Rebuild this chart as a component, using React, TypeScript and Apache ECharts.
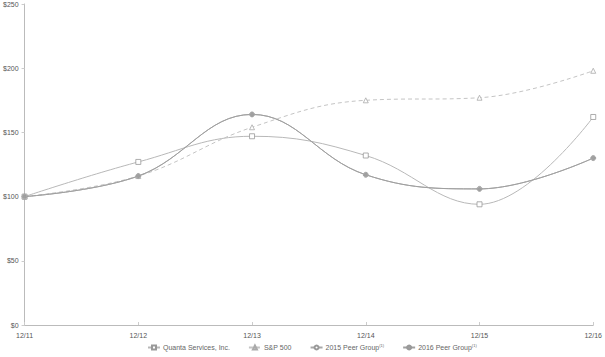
import React, { useEffect, useRef } from "react";
import * as echarts from "echarts";

const categories = ["12/11", "12/12", "12/13", "12/14", "12/15", "12/16"];
const quanta = [100, 127, 147, 132, 94, 162];
const sp500 = [100, 116, 154, 175, 177, 198];
const peer2015 = [100, 116, 164, 117, 106, 130];
const peer2016 = [100, 116, 164, 117, 106, 130];
const seriesNames = ["Quanta Services, Inc.", "S&P 500", "2015 Peer Group", "2016 Peer Group"];

const FONT = "Liberation Sans, Arial, sans-serif";

export default function App() {
  const ref = useRef<HTMLDivElement>(null);
  useEffect(() => {
    const chart = echarts.init(ref.current!, null, { renderer: "svg" });
    chart.setOption({
      animation: false,
      textStyle: { fontFamily: FONT },
      grid: { left: 23, right: 9, top: 4, bottom: 32, containLabel: false },
      legend: {
        bottom: 6,
        left: 147,
        itemWidth: 12,
        itemHeight: 5,
        itemGap: 18,
        padding: 0,
        textStyle: {
          fontFamily: FONT,
          fontSize: 7,
          color: "#666",
          padding: [0, 0, 0, -2],
          rich: { sup: { fontSize: 4, color: "#666", verticalAlign: "top", padding: [0, 0, 4, 0] } },
        },
        formatter: (name: string) => (name.indexOf("Peer") >= 0 ? name + "{sup|(1)}" : name),
        data: seriesNames,
      },
      xAxis: {
        type: "category",
        data: categories,
        boundaryGap: false,
        axisLine: { lineStyle: { color: "#bbb", width: 1 } },
        axisTick: { inside: true, length: 3, lineStyle: { color: "#ccc" } },
        axisLabel: { color: "#555", fontSize: 7, margin: 7, fontFamily: FONT, showMinLabel: true, showMaxLabel: true },
      },
      yAxis: {
        type: "value",
        min: 0,
        max: 250,
        interval: 50,
        axisLine: { show: true, lineStyle: { color: "#bbb", width: 1 } },
        axisTick: { show: true, length: 3, lineStyle: { color: "#ccc" } },
        splitLine: { show: false },
        axisLabel: { color: "#555", fontSize: 7, margin: 6, fontFamily: FONT, formatter: "${value}" },
      },
      series: [
        {
          name: seriesNames[0],
          type: "line",
          data: quanta,
          smooth: 0.4,
          symbol: "rect",
          symbolSize: 5,
          lineStyle: { color: "#b8b8b8", width: 1 },
          itemStyle: { color: "#fff", borderColor: "#999", borderWidth: 0.8 },
        },
        {
          name: seriesNames[1],
          type: "line",
          data: sp500,
          smooth: 0.4,
          symbol: "triangle",
          symbolSize: 5,
          lineStyle: { color: "#c4c4c4", width: 1, type: [4, 3] },
          itemStyle: { color: "#fff", borderColor: "#aaa", borderWidth: 0.8 },
        },
        {
          name: seriesNames[2],
          type: "line",
          data: peer2015,
          smooth: 0.4,
          symbol: "circle",
          symbolSize: 5,
          lineStyle: { color: "#a8a8a8", width: 1 },
          itemStyle: { color: "#fff", borderColor: "#999", borderWidth: 0.8 },
        },
        {
          name: seriesNames[3],
          type: "line",
          data: peer2016,
          smooth: 0.4,
          symbol: "circle",
          symbolSize: 4,
          lineStyle: { color: "#a0a0a0", width: 1 },
          itemStyle: { color: "#a0a0a0", borderColor: "#999", borderWidth: 0.8 },
        },
      ],
    });
    return () => chart.dispose();
  }, []);
  return <div ref={ref} style={{ width: 605, height: 357, position: "absolute", left: 0, top: 0, background: "#fff" }} />;
}
